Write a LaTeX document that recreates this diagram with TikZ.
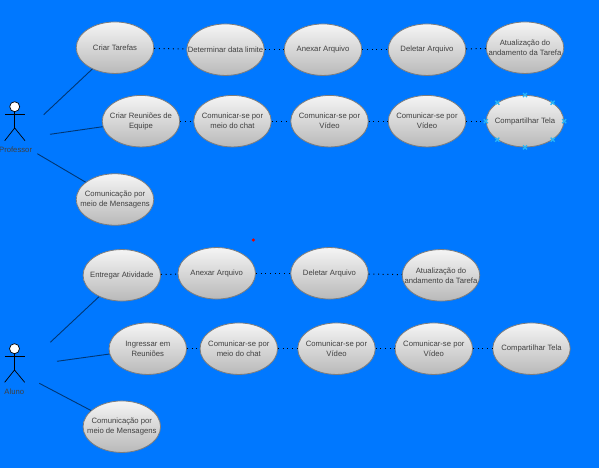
\documentclass[tikz,border=0pt]{standalone}
\usepackage{fontspec}
\setmainfont{Liberation Sans}
\usetikzlibrary{shapes.geometric}
\definecolor{bgblue}{RGB}{0,120,255}
\definecolor{ucline}{RGB}{125,125,125}
\definecolor{uctext}{RGB}{64,64,64}
\definecolor{marker}{RGB}{41,182,246}
\tikzset{
  usecase/.style={ellipse,draw=ucline,line width=0.8pt,top color=gray!8,bottom color=gray!55!white,
    minimum width=77.5pt,minimum height=51.5pt,inner xsep=-12pt,inner ysep=-2pt,align=center,
    font=\fontsize{7.7}{10}\selectfont,text=uctext},
  dotlink/.style={draw=black,line width=1pt,dash pattern=on 1pt off 3.7pt},
  actorlink/.style={draw=black!55!bgblue,line width=0.9pt},
  limb/.style={draw=black,line width=0.7pt},
  actorhead/.style={circle,draw=black,fill=white,line width=0.7pt,minimum size=10pt,inner sep=0pt},
  actorlabel/.style={font=\fontsize{7.7}{10}\selectfont,text=black!75,inner sep=0pt},
  xmark/.style={draw=marker,line width=1.3pt}
}
\begin{document}
\begin{tikzpicture}[x=1pt,y=-1pt]
\useasboundingbox (0,0) rectangle (599,468);
\fill[bgblue] (0,0) rectangle (599,468);

% Professor actor
\node[actorhead] (profhead) at (14.7,106.7) {};
\coordinate (profhip) at (14.7,128);
\draw[limb] (profhead) -- (profhip);
\draw[limb] (5,114.3) -- (25,114.3);
\draw[limb] (4.7,140.7) -- (profhip) -- (25,140.7);
\node[actorlabel] (proflabel) at (15.6,149.3) {Professor};

% Aluno actor
\node[actorhead] (aluhead) at (14.5,348.7) {};
\coordinate (aluhip) at (14.5,370);
\draw[limb] (aluhead) -- (aluhip);
\draw[limb] (5,356.3) -- (24.7,356.3);
\draw[limb] (4.7,382.3) -- (aluhip) -- (24.7,382.3);
\node[actorlabel] (alulabel) at (14.3,391.3) {Aluno};

% Professor use cases
\node[usecase] (a1) at (115,47.7) {Criar Tarefas};
\node[usecase] (a2) at (225.5,49.7) {Determinar data limite};
\node[usecase] (a3) at (323,49.7) {Anexar Arquivo};
\node[usecase] (a4) at (427,49.7) {Deletar Arquivo};
\node[usecase] (a5) at (525,47.7) {Atualização do\\andamento da Tarefa};
\node[usecase] (b1) at (141,121.2) {Criar Reuniões de\\Equipe};
\node[usecase] (b2) at (232.5,121.2) {Comunicar-se por\\meio do chat};
\node[usecase] (b3) at (329.5,121.2) {Comunicar-se por\\Vídeo};
\node[usecase] (b4) at (427,121.2) {Comunicar-se por\\Vídeo};
\node[usecase] (b5) at (525,121.2) {Compartilhar Tela};
\node[usecase] (c1) at (115,199.5) {Comunicação por\\meio de Mensagens};

% Aluno use cases
\node[usecase] (d1) at (121.8,275.3) {Entregar Atividade};
\node[usecase] (d2) at (216.7,273.3) {Anexar Arquivo};
\node[usecase] (d3) at (329.5,273.3) {Deletar Arquivo};
\node[usecase] (d4) at (441,275.3) {Atualização do\\andamento da Tarefa};
\node[usecase] (e1) at (147.8,348.7) {Ingressar em\\Reuniões};
\node[usecase] (e2) at (238.8,348.7) {Comunicar-se por\\meio do chat};
\node[usecase] (e3) at (336.5,348.7) {Comunicar-se por\\Vídeo};
\node[usecase] (e4) at (433.8,348.7) {Comunicar-se por\\Vídeo};
\node[usecase] (e5) at (531.5,348.7) {Compartilhar Tela};
\node[usecase] (f1) at (121.8,426.7) {Comunicação por\\meio de Mensagens};

% Actor associations
\coordinate (pa) at (43.7,114.7);
\coordinate (pb) at (50,134.3);
\coordinate (pc) at (37.3,153.7);
\coordinate (qa) at (50.3,342.3);
\coordinate (qb) at (57,361.3);
\coordinate (qc) at (39.3,383.3);
\draw[actorlink] (pa) -- (a1);
\draw[actorlink] (pb) -- (b1);
\draw[actorlink] (pc) -- (c1);
\draw[actorlink] (qa) -- (d1);
\draw[actorlink] (qb) -- (e1);
\draw[actorlink] (qc) -- (f1);

% Dotted links
\draw[dotlink] (a1) -- (a2);
\draw[dotlink] (a2) -- (a3);
\draw[dotlink] (a3) -- (a4);
\draw[dotlink] (a4) -- (a5);
\draw[dotlink] (b1) -- (b2);
\draw[dotlink] (b2) -- (b3);
\draw[dotlink] (b3) -- (b4);
\draw[dotlink] (b4) -- (b5);
\draw[dotlink] (d1) -- (d2);
\draw[dotlink] (d2) -- (d3);
\draw[dotlink] (d3) -- (d4);
\draw[dotlink] (e1) -- (e2);
\draw[dotlink] (e2) -- (e3);
\draw[dotlink] (e3) -- (e4);
\draw[dotlink] (e4) -- (e5);

% Connection markers on the selected shape
\foreach \anc in {north,north east,east,south east,south,south west,west,north west}{
  \draw[xmark] ([shift={(-2,-2)}]b5.\anc) -- ([shift={(2,2)}]b5.\anc);
  \draw[xmark] ([shift={(-2,2)}]b5.\anc) -- ([shift={(2,-2)}]b5.\anc);
}

% Red point
\fill[red!90!black] (253.3,240) circle (1.7);
\end{tikzpicture}
\end{document}
